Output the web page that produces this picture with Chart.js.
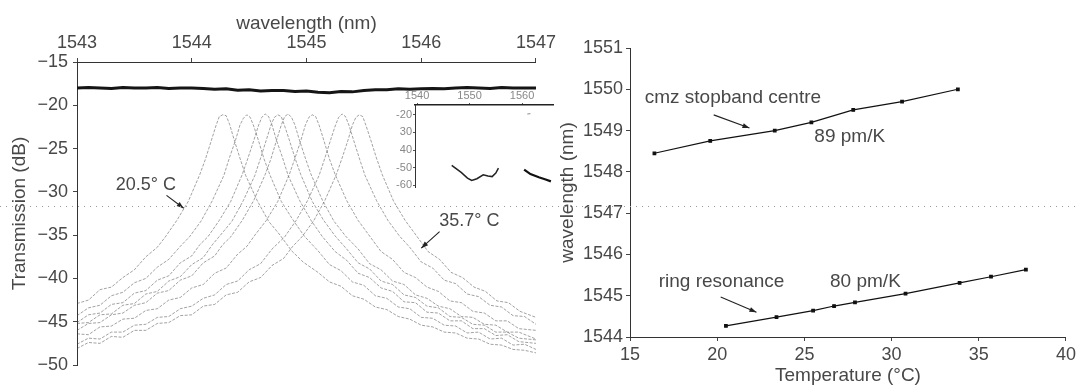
<!DOCTYPE html>
<html>
<head>
<meta charset="utf-8">
<script src="https://cdn.jsdelivr.net/npm/chart.js@4.4.0/dist/chart.umd.min.js"></script>
<style>
  html, body { margin: 0; padding: 0; background: #fff; }
  body { width: 1079px; height: 386px; position: relative; overflow: hidden; }
  .box { position: absolute; }
  #leftBox { left: 0; top: 0; width: 560px; height: 386px; }
  #insetBox { left: 380px; top: 80px; width: 180px; height: 115px; }
  #rightBox { left: 560px; top: 0; width: 519px; height: 386px; }
  #fold {
    position: absolute; left: 0; top: 206px; width: 1079px; height: 1px;
    background: repeating-linear-gradient(to right, #9a9a9a 0 1px, transparent 1px 6px);
  }
</style>
</head>
<body>
<div class="box" id="leftBox"><canvas id="spectra"></canvas></div>
<div class="box" id="insetBox"><canvas id="inset"></canvas></div>
<div class="box" id="rightBox"><canvas id="shift"></canvas></div>
<div id="fold"></div>
<script>
// --- left panel: drop-port spectra, one trace per temperature ---
const temps = ['20.5', '23.4', '25.6', '26.8', '28.0', '30.8', '34.0', '35.7'];

const spec205 = [[1543.00,-42.9],[1543.10,-42.5],[1543.20,-41.3],[1543.30,-41.0],[1543.40,-39.9],[1543.50,-39.0],[1543.60,-37.5],[1543.70,-36.4],[1543.77,-35.2],[1543.87,-33.3],[1543.97,-31.1],[1544.07,-28.0],[1544.12,-26.2],[1544.17,-24.1],[1544.21,-22.4],[1544.24,-21.3],[1544.27,-21.1],[1544.30,-21.2],[1544.33,-22.2],[1544.37,-24.0],[1544.42,-26.1],[1544.47,-28.1],[1544.57,-31.0],[1544.67,-33.4],[1544.77,-35.0],[1544.87,-36.8],[1544.97,-38.1],[1545.10,-39.3],[1545.20,-40.4],[1545.30,-40.9],[1545.40,-42.0],[1545.50,-42.4],[1545.60,-43.3],[1545.70,-43.6],[1545.80,-44.4],[1545.90,-44.7],[1546.00,-45.4],[1546.10,-45.6],[1546.20,-46.2],[1546.30,-46.3],[1546.40,-46.9],[1546.50,-47.0],[1546.60,-47.6],[1546.70,-47.7],[1546.80,-48.2],[1546.90,-48.3],[1547.00,-48.6]];
const spec234 = [[1543.00,-44.3],[1543.10,-43.4],[1543.20,-43.1],[1543.30,-42.0],[1543.40,-41.6],[1543.50,-40.5],[1543.60,-40.0],[1543.70,-38.7],[1543.80,-37.8],[1543.90,-36.3],[1543.98,-35.2],[1544.08,-33.4],[1544.18,-31.0],[1544.28,-28.1],[1544.33,-26.0],[1544.38,-24.1],[1544.42,-22.3],[1544.45,-21.5],[1544.48,-21.1],[1544.51,-21.4],[1544.54,-22.4],[1544.58,-24.0],[1544.63,-26.2],[1544.68,-28.0],[1544.78,-31.1],[1544.88,-33.2],[1544.98,-35.1],[1545.10,-36.8],[1545.20,-38.4],[1545.30,-39.1],[1545.40,-40.4],[1545.50,-40.8],[1545.60,-42.0],[1545.70,-42.3],[1545.80,-43.3],[1545.90,-43.5],[1546.00,-44.5],[1546.10,-44.6],[1546.20,-45.4],[1546.30,-45.5],[1546.40,-46.3],[1546.50,-46.2],[1546.60,-47.0],[1546.70,-46.9],[1546.80,-47.7],[1546.90,-47.6],[1547.00,-48.2]];
const spec256 = [[1543.00,-45.1],[1543.10,-44.2],[1543.20,-44.0],[1543.30,-43.0],[1543.40,-42.8],[1543.50,-41.7],[1543.60,-41.4],[1543.70,-40.2],[1543.80,-39.7],[1543.90,-38.2],[1544.00,-37.4],[1544.07,-36.1],[1544.14,-35.2],[1544.24,-33.3],[1544.34,-31.1],[1544.44,-28.0],[1544.49,-26.1],[1544.54,-24.1],[1544.58,-22.4],[1544.61,-21.4],[1544.64,-21.0],[1544.67,-21.3],[1544.70,-22.3],[1544.74,-24.1],[1544.79,-26.0],[1544.84,-28.1],[1544.94,-31.0],[1545.04,-33.3],[1545.14,-35.2],[1545.25,-36.9],[1545.35,-37.9],[1545.45,-39.4],[1545.55,-39.9],[1545.65,-41.1],[1545.75,-41.5],[1545.85,-42.7],[1545.95,-42.8],[1546.05,-43.9],[1546.15,-44.0],[1546.25,-44.9],[1546.35,-44.9],[1546.45,-45.8],[1546.55,-45.8],[1546.65,-46.6],[1546.75,-46.5],[1546.85,-47.3],[1547.00,-47.5]];
const spec268 = [[1543.00,-45.2],[1543.10,-45.1],[1543.20,-44.2],[1543.30,-44.1],[1543.40,-43.1],[1543.50,-42.9],[1543.60,-41.8],[1543.70,-41.5],[1543.80,-40.3],[1543.90,-39.8],[1544.00,-38.4],[1544.10,-37.6],[1544.18,-36.1],[1544.25,-35.0],[1544.35,-33.4],[1544.45,-31.0],[1544.55,-28.1],[1544.60,-26.1],[1544.65,-24.0],[1544.69,-22.3],[1544.72,-21.4],[1544.75,-21.1],[1544.78,-21.3],[1544.81,-22.4],[1544.85,-24.0],[1544.90,-26.1],[1544.95,-28.0],[1545.05,-31.1],[1545.15,-33.3],[1545.25,-35.1],[1545.35,-36.6],[1545.45,-38.2],[1545.55,-38.9],[1545.65,-40.3],[1545.75,-40.7],[1545.85,-41.9],[1545.95,-42.2],[1546.05,-43.2],[1546.15,-43.4],[1546.25,-44.4],[1546.35,-44.5],[1546.45,-45.3],[1546.55,-45.4],[1546.65,-46.2],[1546.75,-46.2],[1546.85,-46.9],[1547.00,-47.1]];
const spec280 = [[1543.00,-46.0],[1543.10,-45.2],[1543.20,-45.1],[1543.30,-44.2],[1543.40,-44.0],[1543.50,-43.1],[1543.60,-42.8],[1543.70,-41.7],[1543.80,-41.4],[1543.90,-40.2],[1544.00,-39.7],[1544.10,-38.2],[1544.20,-37.4],[1544.27,-36.1],[1544.34,-35.2],[1544.44,-33.3],[1544.54,-31.0],[1544.64,-28.0],[1544.69,-26.2],[1544.74,-24.0],[1544.78,-22.3],[1544.81,-21.3],[1544.84,-21.0],[1544.87,-21.4],[1544.90,-22.3],[1544.94,-24.1],[1544.99,-26.1],[1545.04,-28.0],[1545.14,-31.0],[1545.24,-33.4],[1545.34,-35.1],[1545.45,-36.6],[1545.55,-38.3],[1545.65,-39.0],[1545.75,-40.3],[1545.85,-40.7],[1545.95,-41.9],[1546.05,-42.3],[1546.15,-43.2],[1546.25,-43.5],[1546.35,-44.4],[1546.45,-44.5],[1546.55,-45.3],[1546.65,-45.4],[1546.75,-46.2],[1546.85,-46.2],[1547.00,-47.0]];
const spec308 = [[1543.00,-46.4],[1543.10,-46.5],[1543.20,-45.6],[1543.30,-45.5],[1543.40,-44.7],[1543.50,-44.6],[1543.60,-43.7],[1543.70,-43.5],[1543.80,-42.5],[1543.90,-42.2],[1544.00,-41.1],[1544.10,-40.7],[1544.20,-39.4],[1544.30,-38.8],[1544.40,-37.2],[1544.48,-36.3],[1544.55,-35.0],[1544.65,-33.3],[1544.75,-31.1],[1544.85,-28.0],[1544.90,-26.1],[1544.95,-24.1],[1544.99,-22.3],[1545.02,-21.4],[1545.05,-21.1],[1545.08,-21.3],[1545.11,-22.3],[1545.15,-24.0],[1545.20,-26.2],[1545.25,-28.0],[1545.35,-31.0],[1545.45,-33.3],[1545.55,-35.1],[1545.65,-36.9],[1545.75,-37.8],[1545.85,-39.3],[1545.95,-39.9],[1546.05,-41.0],[1546.15,-41.5],[1546.25,-42.6],[1546.35,-42.8],[1546.45,-43.8],[1546.55,-44.0],[1546.65,-44.9],[1546.75,-44.9],[1546.85,-45.8],[1547.00,-46.0]];
const spec340 = [[1543.00,-47.6],[1543.10,-46.9],[1543.20,-47.0],[1543.30,-46.2],[1543.40,-46.2],[1543.50,-45.4],[1543.60,-45.3],[1543.70,-44.5],[1543.80,-44.4],[1543.90,-43.5],[1544.00,-43.2],[1544.10,-42.3],[1544.20,-41.9],[1544.30,-40.7],[1544.40,-40.3],[1544.50,-39.0],[1544.60,-38.3],[1544.70,-36.6],[1544.81,-35.2],[1544.91,-33.3],[1545.01,-31.0],[1545.11,-28.1],[1545.16,-26.1],[1545.21,-24.0],[1545.25,-22.4],[1545.28,-21.4],[1545.31,-21.0],[1545.34,-21.3],[1545.37,-22.3],[1545.41,-24.0],[1545.46,-26.1],[1545.51,-28.1],[1545.61,-31.0],[1545.71,-33.3],[1545.81,-35.1],[1545.90,-36.4],[1546.00,-38.1],[1546.10,-38.8],[1546.20,-40.2],[1546.30,-40.6],[1546.40,-41.8],[1546.50,-42.1],[1546.60,-43.1],[1546.70,-43.3],[1546.80,-44.3],[1546.90,-44.4],[1547.00,-45.3]];
const spec357 = [[1543.00,-48.1],[1543.10,-47.4],[1543.20,-47.5],[1543.30,-46.7],[1543.40,-46.8],[1543.50,-46.0],[1543.60,-46.0],[1543.70,-45.2],[1543.80,-45.1],[1543.90,-44.3],[1544.00,-44.2],[1544.10,-43.2],[1544.20,-43.0],[1544.30,-41.9],[1544.40,-41.6],[1544.50,-40.4],[1544.60,-39.9],[1544.70,-38.5],[1544.80,-37.7],[1544.88,-36.3],[1544.96,-35.2],[1545.06,-33.4],[1545.16,-31.0],[1545.26,-28.0],[1545.31,-26.1],[1545.36,-24.1],[1545.40,-22.3],[1545.43,-21.4],[1545.46,-21.1],[1545.49,-21.3],[1545.52,-22.4],[1545.56,-24.0],[1545.61,-26.1],[1545.66,-28.0],[1545.76,-31.1],[1545.86,-33.3],[1545.96,-35.1],[1546.06,-36.9],[1546.16,-37.8],[1546.26,-39.3],[1546.36,-39.9],[1546.46,-41.0],[1546.56,-41.5],[1546.66,-42.6],[1546.76,-42.8],[1546.86,-43.8],[1547.00,-44.5]];
const spectra = [spec205, spec234, spec256, spec268, spec280, spec308, spec340, spec357];

// flat through level near -18 dB
const throughWl = [1543.0,1543.1,1543.2,1543.3,1543.4,1543.5,1543.6,1543.7,1543.8,1543.9,1544.0,1544.1,1544.2,1544.3,1544.4,1544.5,1544.6,1544.7,1544.8,1544.9,1545.0,1545.1,1545.2,1545.3,1545.4,1545.5,1545.6,1545.7,1545.8,1545.9,1546.0,1546.1,1546.2,1546.3,1546.4,1546.5,1546.6,1546.7,1546.8,1546.9,1547.0];
const throughDb = [-18.0,-17.95,-18.0,-18.05,-17.95,-18.0,-18.0,-17.95,-18.05,-18.0,-18.0,-18.05,-18.15,-18.1,-18.25,-18.2,-18.35,-18.3,-18.3,-18.4,-18.35,-18.5,-18.55,-18.4,-18.45,-18.3,-18.2,-18.2,-18.1,-18.15,-18.1,-18.05,-18.1,-18.0,-17.95,-18.0,-18.05,-17.95,-18.0,-18.0,-18.0];

// inset: wide span
const insetA = [[1546.6,-48.6],[1548.4,-52.6],[1549.6,-55.8],[1550.4,-57.2],[1551.4,-56.2],[1552.6,-54.0],[1553.5,-54.6],[1554.3,-55.0],[1555.0,-53.0],[1555.5,-50.2]];
const insetB = [[1560.4,-51.0],[1561.6,-53.6],[1563.2,-55.4],[1564.5,-56.6],[1565.5,-57.7]];
const insetMark = [[1561.0,-19.6],[1561.6,-19.4]];
const insetXTicks = [1540, 1550, 1560];
const insetYTicks = [-20, -30, -40, -50, -60];
const insetYLabels = ['-20', '30', '40', '-50', '-60'];

// --- right panel: wavelength vs temperature ---
const cmzTemp = [16.4, 19.6, 23.3, 25.4, 27.8, 30.6, 33.8];
const cmzWl = [1548.45, 1548.75, 1549.0, 1549.2, 1549.5, 1549.7, 1550.0];
const ringTemp = [20.5, 23.4, 25.5, 26.7, 27.9, 30.8, 33.9, 35.7, 37.7];
const ringWl = [1544.27, 1544.48, 1544.64, 1544.75, 1544.84, 1545.05, 1545.31, 1545.46, 1545.63];

const FONT = '"Liberation Sans", Arial, sans-serif';
const INK = '#484848';
Chart.defaults.font.family = FONT;
Chart.defaults.color = INK;
Chart.defaults.animation = false;

const minus = v => String(v).replace('-', '\u2212');

// text + arrow annotations, placed in data coordinates
const notePlugin = {
    id: 'notes',
    afterDatasetsDraw(chart, args, opts) {
        const { ctx, scales: { x, y } } = chart;
        ctx.save();
        ctx.fillStyle = INK;
        ctx.strokeStyle = '#222';
        ctx.lineWidth = 1.1;
        ctx.font = (opts.size || 18) + 'px ' + FONT;
        ctx.textAlign = 'center';
        ctx.textBaseline = 'middle';
        (opts.labels || []).forEach(n => {
            ctx.fillText(n.text, x.getPixelForValue(n.at[0]), y.getPixelForValue(n.at[1]));
        });
        (opts.arrows || []).forEach(a => {
            const x0 = x.getPixelForValue(a.from[0]), y0 = y.getPixelForValue(a.from[1]);
            const x1 = x.getPixelForValue(a.to[0]), y1 = y.getPixelForValue(a.to[1]);
            const ang = Math.atan2(y1 - y0, x1 - x0);
            ctx.beginPath();
            ctx.moveTo(x0, y0);
            ctx.lineTo(x1, y1);
            ctx.stroke();
            ctx.beginPath();
            ctx.moveTo(x1, y1);
            ctx.lineTo(x1 - 7 * Math.cos(ang) + 2.5 * Math.sin(ang), y1 - 7 * Math.sin(ang) - 2.5 * Math.cos(ang));
            ctx.lineTo(x1 - 7 * Math.cos(ang) - 2.5 * Math.sin(ang), y1 - 7 * Math.sin(ang) + 2.5 * Math.cos(ang));
            ctx.closePath();
            ctx.fillStyle = '#222';
            ctx.fill();
        });
        ctx.restore();
    }
};

const axisGrid = { drawOnChartArea: false, tickLength: 4, color: '#444' };
const axisBorder = { color: '#333', width: 1 };

// --- Left chart ---
new Chart(document.getElementById('spectra'), {
    type: 'line',
    data: {
        datasets: [
            {
                label: 'through',
                data: throughWl.map((w, i) => ({ x: w, y: throughDb[i] })),
                borderColor: '#151515',
                borderWidth: 3,
                pointRadius: 0
            },
            ...spectra.map((pts, i) => ({
                label: temps[i] + ' °C',
                data: pts.map(p => ({ x: p[0], y: p[1] })),
                borderColor: 'rgba(70,70,70,0.5)',
                borderWidth: 1,
                borderDash: [3, 1.5],
                pointRadius: 0
            }))
        ]
    },
    options: {
        responsive: true,
        maintainAspectRatio: false,
        layout: { padding: { left: 0, right: 23, top: 0, bottom: 21 } },
        plugins: {
            legend: { display: false },
            tooltip: { enabled: false },
            notes: {
                size: 18,
                labels: [
                    { text: '20.5° C', at: [1543.6, -29.2] },
                    { text: '35.7° C', at: [1546.42, -33.4] }
                ],
                arrows: [
                    { from: [1543.78, -30.4], to: [1543.93, -31.9] },
                    { from: [1546.16, -34.6], to: [1546.0, -36.5] }
                ]
            }
        },
        scales: {
            x: {
                type: 'linear',
                position: 'top',
                min: 1543, max: 1547,
                ticks: { stepSize: 1, padding: 4, font: { size: 18 }, callback: v => String(v) },
                grid: axisGrid,
                border: axisBorder,
                title: { display: true, text: 'wavelength (nm)', font: { size: 19 }, padding: { top: 12, bottom: 0 } },
                afterFit: s => { s.height = 62; }
            },
            y: {
                min: -50, max: -15,
                ticks: { stepSize: 5, padding: 5, font: { size: 18 }, callback: v => minus(v) },
                grid: axisGrid,
                border: axisBorder,
                title: { display: true, text: 'Transmission (dB)', font: { size: 19 }, padding: { top: 8, bottom: 0 } },
                afterFit: s => { s.width = 77; }
            }
        }
    },
    plugins: [notePlugin]
});

// --- Inset ---
new Chart(document.getElementById('inset'), {
    type: 'line',
    data: {
        datasets: [
            { data: insetA.map(p => ({ x: p[0], y: p[1] })), borderColor: '#222', borderWidth: 1.5, pointRadius: 0 },
            { data: insetB.map(p => ({ x: p[0], y: p[1] })), borderColor: '#111', borderWidth: 2.2, pointRadius: 0 },
            { data: insetMark.map(p => ({ x: p[0], y: p[1] })), borderColor: '#888', borderWidth: 1, pointRadius: 0 }
        ]
    },
    options: {
        responsive: true,
        maintainAspectRatio: false,
        layout: { padding: { left: 0, right: 7, top: 0, bottom: 5 } },
        plugins: { legend: { display: false }, tooltip: { enabled: false } },
        scales: {
            x: {
                type: 'linear',
                position: 'top',
                min: 1539.6, max: 1565.9,
                afterBuildTicks: s => { s.ticks = insetXTicks.map(v => ({ value: v })); },
                ticks: { padding: 0, color: '#888', font: { size: 11 }, callback: v => String(v) },
                grid: { drawOnChartArea: false, tickLength: 2, color: '#555' },
                border: { color: '#222', width: 1.5 },
                afterFit: s => { s.height = 25; }
            },
            y: {
                min: -61.1, max: -14.5,
                afterBuildTicks: s => { s.ticks = insetYTicks.map(v => ({ value: v })); },
                ticks: { padding: 1, color: '#888', font: { size: 11 }, callback: v => insetYLabels[insetYTicks.indexOf(v)] },
                grid: { drawOnChartArea: false, tickLength: 2, color: '#555' },
                border: { color: '#333', width: 1 },
                afterFit: s => { s.width = 35; }
            }
        }
    }
});

// --- Right chart ---
const markerStyle = {
    borderColor: '#111',
    borderWidth: 1.2,
    pointStyle: 'rect',
    pointRadius: 1.8,
    pointBackgroundColor: '#111',
    pointBorderColor: '#111'
};

new Chart(document.getElementById('shift'), {
    type: 'line',
    data: {
        datasets: [
            { label: 'cmz stopband centre', data: cmzTemp.map((t, i) => ({ x: t, y: cmzWl[i] })), ...markerStyle },
            { label: 'ring resonance', data: ringTemp.map((t, i) => ({ x: t, y: ringWl[i] })), ...markerStyle }
        ]
    },
    options: {
        responsive: true,
        maintainAspectRatio: false,
        layout: { padding: { left: 0, right: 11, top: 48, bottom: 0 } },
        plugins: {
            legend: { display: false },
            tooltip: { enabled: false },
            notes: {
                size: 19,
                labels: [
                    { text: 'cmz stopband centre', at: [20.9, 1549.79] },
                    { text: '89 pm/K', at: [27.6, 1548.84] },
                    { text: 'ring resonance', at: [20.25, 1545.33] },
                    { text: '80 pm/K', at: [28.5, 1545.33] }
                ],
                arrows: [
                    { from: [19.8, 1549.38], to: [21.85, 1549.06] },
                    { from: [20.2, 1544.97], to: [22.25, 1544.6] }
                ]
            }
        },
        scales: {
            x: {
                type: 'linear',
                min: 15, max: 40,
                ticks: { stepSize: 5, padding: 3, font: { size: 18 }, callback: v => String(v) },
                grid: axisGrid,
                border: axisBorder,
                title: { display: true, text: 'Temperature (°C)', font: { size: 19, lineHeight: 1.1 }, padding: { top: 0, bottom: 0 } },
                afterFit: s => { s.height = 49; }
            },
            y: {
                min: 1544, max: 1551,
                ticks: { stepSize: 1, padding: 3, font: { size: 18 }, callback: v => String(v) },
                grid: axisGrid,
                border: axisBorder,
                title: { display: true, text: 'wavelength (nm)', font: { size: 19, lineHeight: 1 }, padding: { top: -2, bottom: 0 } },
                afterFit: s => { s.width = 70; }
            }
        }
    },
    plugins: [notePlugin]
});
</script>
</body>
</html>
